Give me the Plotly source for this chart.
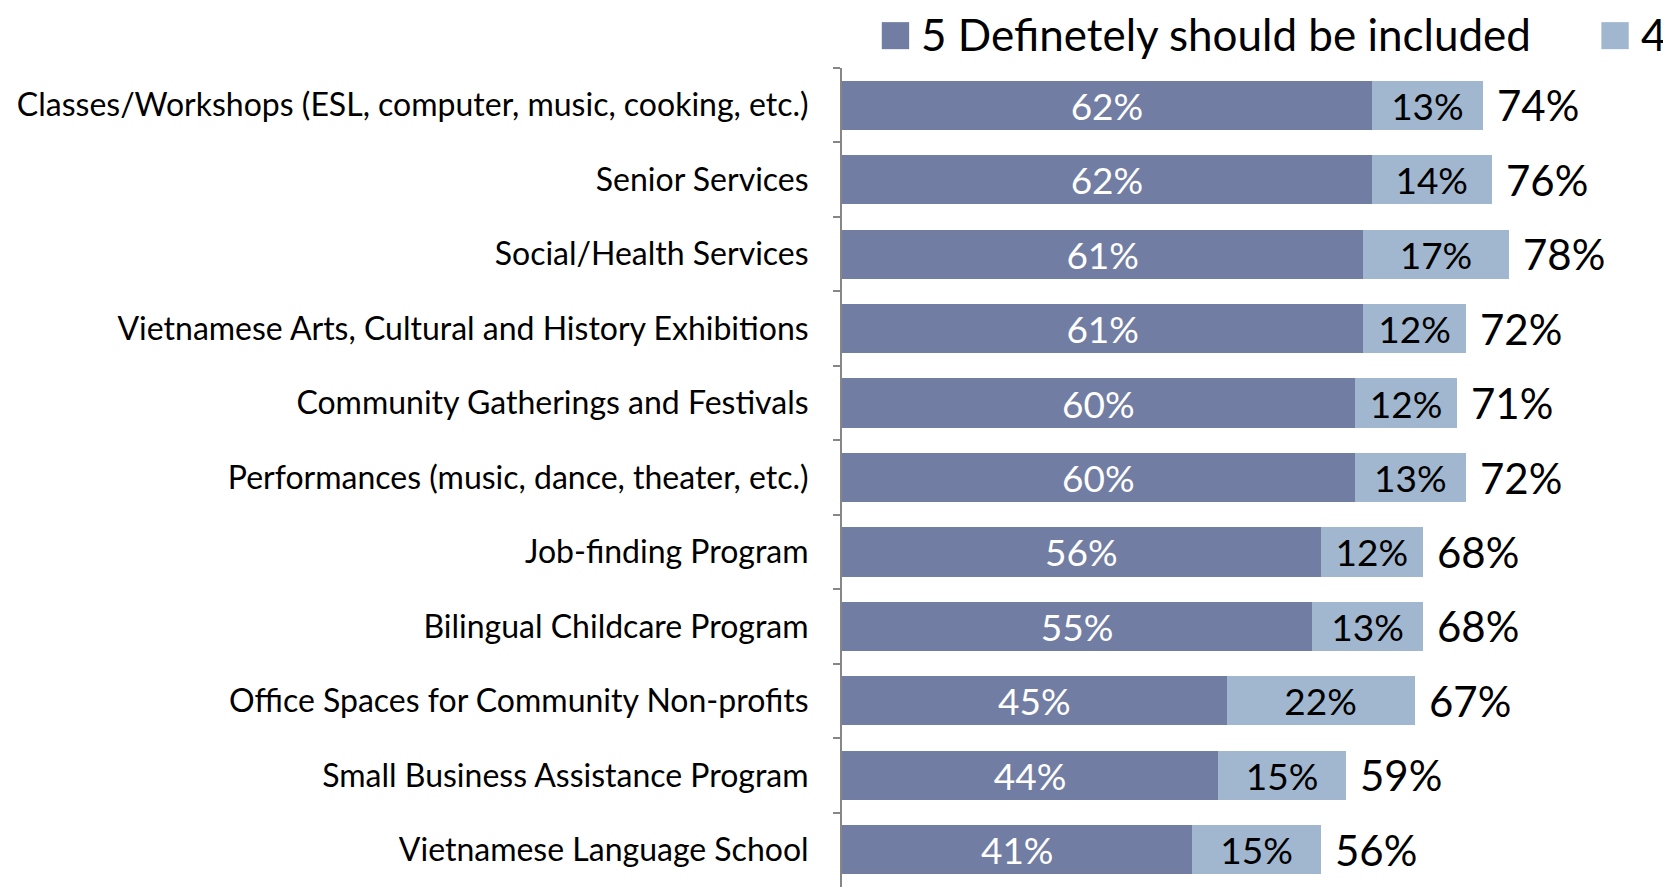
import plotly.graph_objects as go

categories = [
    "Classes/Workshops (ESL, computer, music, cooking, etc.)",
    "Senior Services",
    "Social/Health Services",
    "Vietnamese Arts, Cultural and History Exhibitions",
    "Community Gatherings and Festivals",
    "Performances (music, dance, theater, etc.)",
    "Job-finding Program",
    "Bilingual Childcare Program",
    "Office Spaces for Community Non-profits",
    "Small Business Assistance Program",
    "Vietnamese Language School",
]
definitely = [62, 62, 61, 61, 60, 60, 56, 55, 45, 44, 41]
four = [13, 14, 17, 12, 12, 13, 12, 13, 22, 15, 15]
totals = [74, 76, 78, 72, 71, 72, 68, 68, 67, 59, 56]
series_names = ["5 Definetely should be included", "4"]

DARK = "#727da3"
LIGHT = "#a1b7cf"
FONT = "Lato"

fig = go.Figure()
fig.add_trace(go.Bar(
    y=categories, x=definitely, orientation="h", name=series_names[0],
    marker=dict(color=DARK, line=dict(width=0)),
    text=[f"{v}%" for v in definitely], textposition="inside",
    insidetextanchor="middle", constraintext="none",
    textfont=dict(family=FONT, size=37, color="white"),
    showlegend=False,
))
fig.add_trace(go.Bar(
    y=categories, x=four, orientation="h", name=series_names[1],
    marker=dict(color=LIGHT, line=dict(width=0)),
    text=[f"{v}%" for v in four], textposition="inside",
    insidetextanchor="middle", constraintext="none",
    textfont=dict(family=FONT, size=37, color="black"),
    showlegend=False,
))

for cat, d, f, t in zip(categories, definitely, four, totals):
    fig.add_annotation(
        x=d + f, y=cat, xref="x", yref="y", text=f"{t}%",
        showarrow=False, xanchor="left", yanchor="middle", xshift=12,
        font=dict(family=FONT, size=42, color="black"),
    )

# legend (drawn manually to match large square swatches)
legend_items = [(series_names[0], DARK, 0.048), (series_names[1], LIGHT, 0.916)]
for name, col, x0 in legend_items:
    fig.add_shape(type="rect", xref="paper", yref="paper",
                  x0=x0, x1=x0 + 0.033, y0=1.023, y1=1.056,
                  fillcolor=col, line=dict(width=0))
    fig.add_annotation(xref="paper", yref="paper", x=x0 + 0.045, y=1.041,
                       text=name, showarrow=False, xanchor="left", yanchor="middle",
                       font=dict(family=FONT, size=44, color="black"))

fig.update_layout(
    width=1663, height=879,
    barmode="stack", bargap=0.34,
    margin=dict(l=834, r=0, t=60, b=0),
    paper_bgcolor="white", plot_bgcolor="white",
    font=dict(family=FONT, color="black"),
    xaxis=dict(range=[0, 97], visible=False, showgrid=False, zeroline=False),
    yaxis=dict(
        autorange="reversed", showline=True, linecolor="#868686", linewidth=2,
        ticks="outside", tickson="boundaries", ticklen=7, tickcolor="#868686",
        tickwidth=2, showgrid=False, ticklabelstandoff=25,
        tickfont=dict(family=FONT, size=32, color="black"),
    ),
)

fig.write_html("out.html")
